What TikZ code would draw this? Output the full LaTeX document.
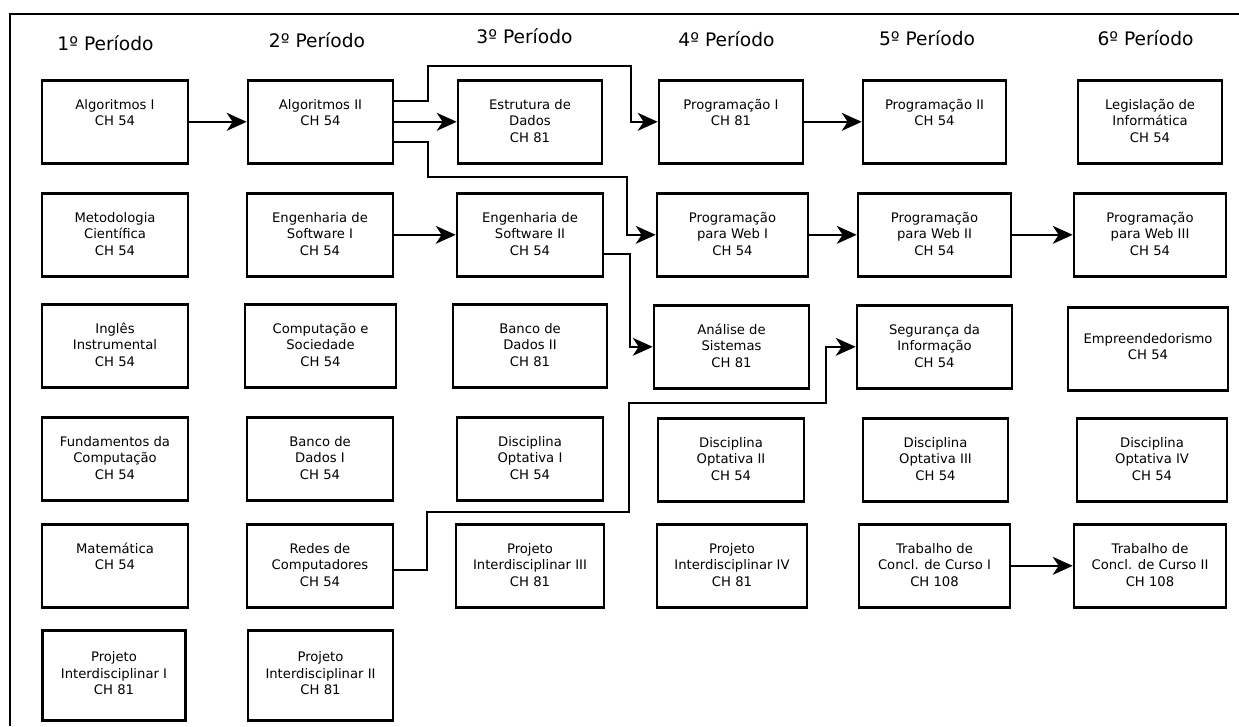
\documentclass[tikz,border=0pt]{standalone}
\usepackage{fontspec}
\setmainfont{DejaVu Sans}
\usetikzlibrary{arrows.meta}
\newcommand{\materia}[3][1.66cm]{\parbox[c][#1][t]{#2}{\centering\rule{0pt}{\dimexpr #1*35/100\relax}#3}}
\tikzset{
  disc/.style={draw, line width=1.5pt, inner sep=0pt, anchor=north, font=\fontsize{7.5}{9.4}\selectfont},
  periodo/.style={font=\fontsize{10.6}{12}\selectfont, anchor=base},
  seta/.style={line width=1.1pt, -{Stealth[length=4mm,width=3.6mm,inset=1.2mm]}}
}
\begin{document}
\begin{tikzpicture}
\useasboundingbox (0,0) rectangle (24.78,-14.52);
\draw[line width=1.2pt] (0.2,-14.52) -- (0.2,-0.28) -- (24.78,-0.28);
\foreach \n/\x/\y in {1/2.11/1.0, 2/6.34/0.94, 3/10.49/0.86, 4/14.53/0.92, 5/18.54/0.9, 6/22.91/0.9}
  \node[periodo] (per\n) at (\x,-\y) {\n{}º Período};

\node[disc] (alg1) at (2.30,-1.58) {\materia{2.92cm}{Algoritmos I\\CH 54}};
\node[disc] (metod) at (2.30,-3.84) {\materia{2.92cm}{Metodologia\\Científica\\CH 54}};
\node[disc] (ingles) at (2.30,-6.06) {\materia{2.92cm}{Inglês\\Instrumental\\CH 54}};
\node[disc] (fund) at (2.30,-8.32) {\materia{2.92cm}{Fundamentos da\\Computação\\CH 54}};
\node[disc] (mat) at (2.30,-10.46) {\materia{2.92cm}{Matemática\\CH 54}};
\node[disc] (proj1) at (2.28,-12.58) {\materia[1.8cm]{2.86cm}{Projeto\\Interdisciplinar I\\CH 81}};

\node[disc] (alg2) at (6.41,-1.58) {\materia{2.9cm}{Algoritmos II\\CH 54}};
\node[disc] (engsw1) at (6.40,-3.84) {\materia{2.92cm}{Engenharia de\\Software I\\CH 54}};
\node[disc] (compsoc) at (6.41,-6.06) {\materia{3.02cm}{Computação e\\Sociedade\\CH 54}};
\node[disc] (bd1) at (6.40,-8.32) {\materia{2.92cm}{Banco de\\Dados I\\CH 54}};
\node[disc] (redes) at (6.40,-10.46) {\materia{2.92cm}{Redes de\\Computadores\\CH 54}};
\node[disc] (proj2) at (6.41,-12.58) {\materia[1.8cm]{2.9cm}{Projeto\\Interdisciplinar II\\CH 81}};

\node[disc] (estdados) at (10.60,-1.58) {\materia{2.88cm}{Estrutura de\\Dados\\CH 81}};
\node[disc] (engsw2) at (10.60,-3.84) {\materia{2.92cm}{Engenharia de\\Software II\\CH 54}};
\node[disc] (bd2) at (10.60,-6.06) {\materia{3.08cm}{Banco de\\Dados II\\CH 81}};
\node[disc] (opt1) at (10.60,-8.32) {\materia{2.92cm}{Disciplina\\Optativa I\\CH 54}};
\node[disc] (proj3) at (10.60,-10.46) {\materia{2.96cm}{Projeto\\Interdisciplinar III\\CH 81}};

\node[disc] (prog1) at (14.62,-1.58) {\materia{2.88cm}{Programação I\\CH 81}};
\node[disc] (web1) at (14.65,-3.84) {\materia{3.02cm}{Programação\\para Web I\\CH 54}};
\node[disc] (analise) at (14.63,-6.08) {\materia{3.1cm}{Análise de\\Sistemas\\CH 81}};
\node[disc] (opt2) at (14.62,-8.34) {\materia{2.92cm}{Disciplina\\Optativa II\\CH 54}};
\node[disc] (proj4) at (14.64,-10.46) {\materia{3.0cm}{Projeto\\Interdisciplinar IV\\CH 81}};

\node[disc] (prog2) at (18.69,-1.58) {\materia{2.86cm}{Programação II\\CH 54}};
\node[disc] (web2) at (18.69,-3.84) {\materia{3.06cm}{Programação\\para Web II\\CH 54}};
\node[disc] (seg) at (18.69,-6.08) {\materia{3.1cm}{Segurança da\\Informação\\CH 54}};
\node[disc] (opt3) at (18.71,-8.34) {\materia{2.9cm}{Disciplina\\Optativa III\\CH 54}};
\node[disc] (tcc1) at (18.69,-10.46) {\materia{3.02cm}{Trabalho de\\Concl. de Curso I\\CH 108}};

\node[disc] (legis) at (23.00,-1.58) {\materia{2.88cm}{Legislação de\\Informática\\CH 54}};
\node[disc] (web3) at (23.00,-3.84) {\materia{3.04cm}{Programação\\para Web III\\CH 54}};
\node[disc] (empreend) at (22.96,-6.12) {\materia{3.2cm}{\rule{0pt}{0.72cm}Empreendedorismo\\CH 54}};
\node[disc] (opt4) at (23.04,-8.34) {\materia{3.0cm}{Disciplina\\Optativa IV\\CH 54}};
\node[disc] (tcc2) at (23.00,-10.46) {\materia{3.04cm}{Trabalho de\\Concl. de Curso II\\CH 108}};

\draw[seta] (alg1.east) -- (alg2.west);
\draw[seta] (alg2.east) -- (estdados.west);
\draw[seta] ([yshift=4.1mm]alg2.east) -- ++(0.68,0) -- ++(0,0.7) -| ([xshift=-5.4mm]prog1.west) -- (prog1.west);
\draw[seta] ([yshift=-4.1mm]alg2.east) -- ++(0.68,0) -- ++(0,-0.7) -| ([xshift=-5.8mm]web1.west) -- (web1.west);
\draw[seta] (engsw1.east) -- (engsw2.west);
\draw[seta] ([yshift=-3.8mm]engsw2.east) -- ++(0.52,0) |- (analise.west);
\draw[seta] (prog1.east) -- (prog2.west);
\draw[seta] (web1.east) -- (web2.west);
\draw[seta] (web2.east) -- (web3.west);
\draw[seta] ([yshift=-0.8mm]redes.east) -- ++(0.66,0) -- ++(0,1.16) -- ++(4.04,0) -- ++(0,2.18) -| ([xshift=-6mm]seg.west) -- (seg.west);
\draw[seta] (tcc1.east) -- (tcc2.west);
\end{tikzpicture}
\end{document}
